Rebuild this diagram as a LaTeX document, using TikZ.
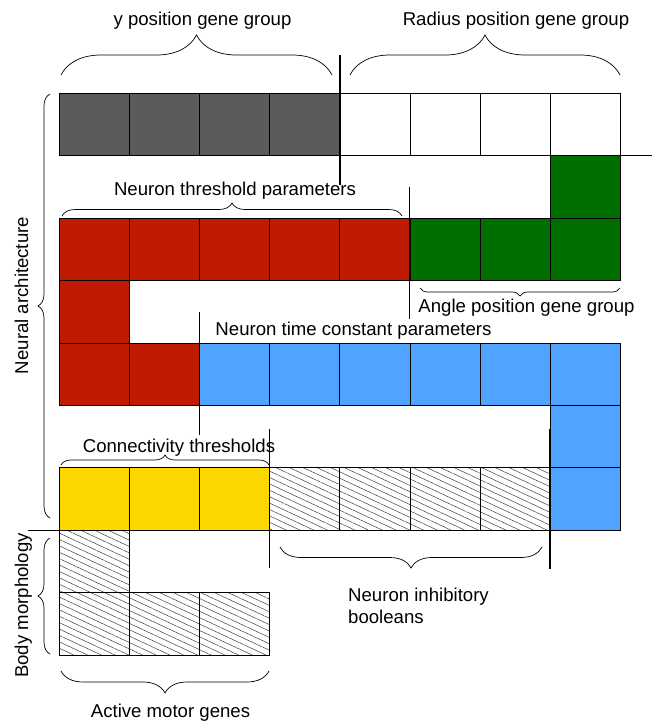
\documentclass[tikz,border=0pt]{standalone}
\usepackage{fontspec}
\setmainfont{Liberation Sans}
\usetikzlibrary{decorations.pathreplacing,patterns.meta}
\definecolor{cgray}{HTML}{5B5B5B}
\definecolor{cred}{HTML}{BF1B00}
\definecolor{cgreen}{HTML}{006F00}
\definecolor{cblue}{HTML}{50A4FF}
\definecolor{cyellow}{HTML}{FDD800}
\begin{document}
\begin{tikzpicture}[x=1pt,y=-1pt,
  cell/.style={draw=black, line width=0.8pt, minimum width=70.2pt, minimum height=62.4pt, inner sep=0pt, outer sep=0pt, anchor=north west},
  hatchcell/.style={cell, pattern={Lines[angle=-25,distance=5.8pt,line width=0.5pt]}, pattern color=black!75},
  sepline/.style={line width=1.1pt},
  brc/.style={decorate, decoration={brace, amplitude=#1}, line width=0.7pt},
  lbl/.style={font=\fontsize{18.6}{22}\selectfont, inner sep=0pt, anchor=base}]
\useasboundingbox[fill=white] (0,0) rectangle (657,723);
% cells
\foreach \c/\r/\col in {0/0/cgray,1/0/cgray,2/0/cgray,3/0/cgray,4/0/white,5/0/white,6/0/white,7/0/white,
  7/1/cgreen,
  0/2/cred,1/2/cred,2/2/cred,3/2/cred,4/2/cred,5/2/cgreen,6/2/cgreen,7/2/cgreen,
  0/3/cred,
  0/4/cred,1/4/cred,2/4/cblue,3/4/cblue,4/4/cblue,5/4/cblue,6/4/cblue,7/4/cblue,
  7/5/cblue,
  0/6/cyellow,1/6/cyellow,2/6/cyellow,7/6/cblue}
  \node[cell, fill=\col] (c\c-\r) at ({59+70.2*\c},{93.3+62.4*\r}) {};
\foreach \c/\r in {3/6,4/6,5/6,6/6,0/7,0/8,1/8,2/8}
  \node[hatchcell] (c\c-\r) at ({59+70.2*\c},{93.3+62.4*\r}) {};
% separator lines
\coordinate (s1a) at (340,55);   \coordinate (s1b) at (340,185);
\coordinate (s2a) at (520,155.7); \coordinate (s2b) at (652,155.7);
\coordinate (s3a) at (409.4,187); \coordinate (s3b) at (409.4,319);
\coordinate (s4a) at (199.4,312); \coordinate (s4b) at (199.4,435);
\coordinate (s5a) at (269.6,429); \coordinate (s5b) at (269.6,568);
\coordinate (s6a) at (28,530.1);  \coordinate (s6b) at (160,530.1);
\coordinate (s7a) at (550,429);   \coordinate (s7b) at (550,569);
\foreach \s in {1,...,7} \draw[sepline] (s\s a) -- (s\s b);
% braces
\coordinate (b1a) at (61,75);   \coordinate (b1b) at (332,75);
\coordinate (b2a) at (350,75);  \coordinate (b2b) at (620,75);
\coordinate (b3a) at (62,216);  \coordinate (b3b) at (402,216);
\coordinate (b4a) at (620,288); \coordinate (b4b) at (420,288);
\coordinate (b5a) at (61,465);  \coordinate (b5b) at (269,465);
\coordinate (b6a) at (542,547); \coordinate (b6b) at (280,547);
\coordinate (b7a) at (269,671); \coordinate (b7b) at (61,671);
\coordinate (b8a) at (50,518);  \coordinate (b8b) at (50,94);
\coordinate (b9a) at (50,654);  \coordinate (b9b) at (50,538);
\draw[brc=40pt] (b1a) -- (b1b);
\draw[brc=40pt] (b2a) -- (b2b);
\draw[brc=13pt] (b3a) -- (b3b);
\draw[brc=8pt] (b4a) -- (b4b);
\draw[brc=10pt] (b5a) -- (b5b);
\draw[brc=21pt] (b6a) -- (b6b);
\draw[brc=22pt] (b7a) -- (b7b);
\draw[brc=12pt] (b8a) -- (b8b);
\draw[brc=12pt] (b9a) -- (b9b);
% labels
\node[lbl] (tY) at (202.5,25) {y position gene group};
\node[lbl] (tR) at (516,25) {Radius position gene group};
\node[lbl] (tT) at (235,195) {Neuron threshold parameters};
\node[lbl] (tA) at (526.5,312) {Angle position gene group};
\node[lbl] (tC) at (353.5,335) {Neuron time constant parameters};
\node[lbl] (tK) at (179,452) {Connectivity thresholds};
\node[lbl, anchor=north west, align=left] (tI) at (348,587.4) {Neuron inhibitory\\booleans};
\node[lbl] (tM) at (170.5,717) {Active motor genes};
\node[lbl, rotate=90] (tN) at (28,295.5) {Neural architecture};
\node[lbl, rotate=90] (tB) at (28,605.5) {Body morphology};
\end{tikzpicture}
\end{document}
